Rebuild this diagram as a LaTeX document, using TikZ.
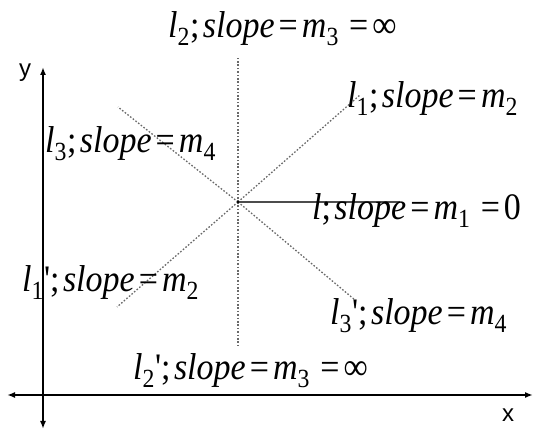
\documentclass[tikz,border=0pt]{standalone}
\usepackage{fontspec}
\setmainfont{Liberation Serif}
\newfontfamily\axisfont{Liberation Sans}
\usetikzlibrary{arrows.meta}
\definecolor{dotgray}{RGB}{105,105,105}

\newcommand{\eqs}{\hspace{0.12em}=\hspace{0.12em}}
\newcommand{\slopetxt}[3]{\textit{l}\textsubscript{#1}#2;\hspace{0.1em}\textit{slope}\eqs#3}

\begin{document}
\begin{tikzpicture}[x=1pt,y=1pt,line join=round,
  lbl/.style={font=\fontsize{34}{36}\selectfont,inner sep=0pt,anchor=base west,yscale=1.1,transform shape},
  axlbl/.style={font=\axisfont\fontsize{24}{26}\selectfont,inner sep=0pt},
  dotline/.style={dotgray,line width=1.3pt,dash pattern=on 1.6pt off 1.8pt},
  axis/.style={line width=1.7pt,{Latex[length=8pt,width=6pt]}-{Latex[length=8pt,width=6pt]}}]
  \useasboundingbox (0,0) rectangle (535,430);
  % axes
  \coordinate (Xl) at (7,35); \coordinate (Xr) at (533,35);
  \coordinate (Yb) at (43,1); \coordinate (Yt) at (43,363);
  \draw[axis] (Xl) -- (Xr);
  \draw[axis] (Yb) -- (Yt);
  \node[axlbl] (ylab) at (25,357) {y};
  \node[axlbl] (xlab) at (508,15) {x};
  % lines through O
  \coordinate (O) at (238,228);
  \coordinate (L2t) at (238,373); \coordinate (L2b) at (238,82);
  \coordinate (L1t) at (360,335); \coordinate (L1b) at (117,123);
  \coordinate (L3t) at (118,323); \coordinate (L3b) at (355,130);
  \coordinate (Le) at (400,228);
  \foreach \p in {L2t,L2b,L1t,L1b,L3t,L3b} \draw[dotline] (O) -- (\p);
  \draw[line width=1.4pt,black!70] (O) -- (Le);
  \fill (O) circle (1.4pt);
  % labels
  \node[lbl] (l2) at (168,392) {\slopetxt{2}{}{\textit{m}\textsubscript{3}\hspace{0.3em}=\hspace{0.12em}∞}};
  \node[lbl] (l1) at (347,322) {\slopetxt{1}{}{\textit{m}\textsubscript{2}}};
  \node[lbl] (l3) at (45,277) {\slopetxt{3}{}{\textit{m}\textsubscript{4}}};
  \node[lbl] (l0) at (312,210) {\textit{l};\hspace{0.1em}\textit{slope}\eqs\textit{m}\textsubscript{1}\hspace{0.3em}=\hspace{0.12em}0};
  \node[lbl] (l1p) at (22,138) {\slopetxt{1}{\textquotesingle}{\textit{m}\textsubscript{2}}};
  \node[lbl] (l3p) at (330,105) {\slopetxt{3}{\textquotesingle}{\textit{m}\textsubscript{4}}};
  \node[lbl] (l2p) at (133,50) {\slopetxt{2}{\textquotesingle}{\textit{m}\textsubscript{3}\hspace{0.3em}=\hspace{0.12em}∞}};
\end{tikzpicture}
\end{document}
